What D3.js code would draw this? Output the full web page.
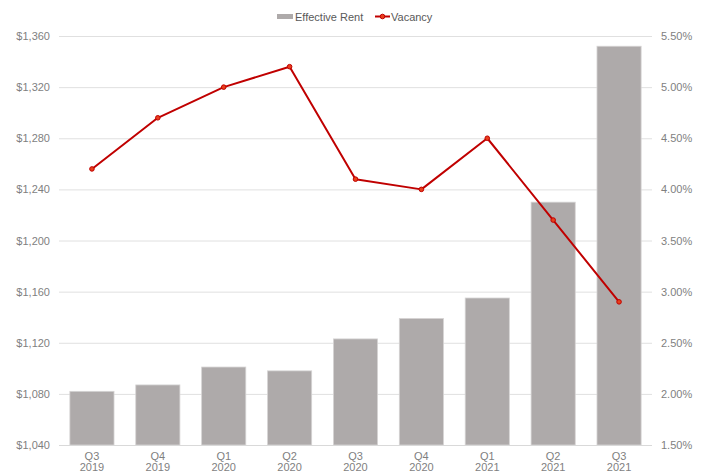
<!DOCTYPE html>
<html><head><meta charset="utf-8">
<script src="https://cdn.jsdelivr.net/npm/d3@7/dist/d3.min.js"></script>
<style>body{margin:0;background:#fff}svg{display:block}text{font-family:"Liberation Sans",Arial,Helvetica,sans-serif}</style>
</head><body><svg id="c" width="704" height="472"></svg>
<script>
const quarters = ["Q3","Q4","Q1","Q2","Q3","Q4","Q1","Q2","Q3"];
const years = ["2019","2019","2020","2020","2020","2020","2021","2021","2021"];
const effectiveRent = [1082,1087,1101,1098,1123,1139,1155,1230,1352];
const vacancy = [4.20,4.70,5.00,5.20,4.10,4.00,4.50,3.70,2.90];
const rentTicks = [1040,1080,1120,1160,1200,1240,1280,1320,1360];
const vacTicks = [1.5,2.0,2.5,3.0,3.5,4.0,4.5,5.0,5.5];

const svg = d3.select("#c");
const L = 59, R = 652, T = 36, B = 445;
const idx = d3.range(quarters.length);
const x = d3.scaleBand().domain(idx).range([L, R]).paddingInner(0.33).paddingOuter(0.165);
const yL = d3.scaleLinear().domain([1040,1360]).range([B, T]);
const yR = d3.scaleLinear().domain([1.5,5.5]).range([B, T]);
const labelColor = "#7f7f7f";

// gridlines
svg.append("g").selectAll("line").data(rentTicks.slice(1)).join("line")
  .attr("x1", L).attr("x2", R).attr("y1", d => yL(d)+0.5).attr("y2", d => yL(d)+0.5)
  .attr("stroke", "#e0e0e0").attr("stroke-width", 1);

// left axis
const axL = svg.append("g").attr("transform", `translate(${L},0)`)
  .call(d3.axisLeft(yL).tickValues(rentTicks).tickSize(0).tickPadding(9).tickFormat(d => "$" + d3.format(",")(d)));
axL.select(".domain").remove();
axL.selectAll("text").attr("fill", labelColor).attr("font-size", 11);

// right axis
const axR = svg.append("g").attr("transform", `translate(${R},0)`)
  .call(d3.axisRight(yR).tickValues(vacTicks).tickSize(0).tickPadding(9).tickFormat(d => d3.format(".2f")(d) + "%"));
axR.select(".domain").remove();
axR.selectAll("text").attr("fill", labelColor).attr("font-size", 11);

// bars
svg.append("g").selectAll("rect").data(effectiveRent).join("rect")
  .attr("x", (d,i) => x(i)).attr("width", x.bandwidth())
  .attr("y", d => yL(d)).attr("height", d => B - yL(d))
  .attr("fill", "#aeaaaa").attr("stroke", "#d6d4d4").attr("stroke-width", 0.8);

// baseline
svg.append("line").attr("x1", L).attr("x2", R).attr("y1", B+0.5).attr("y2", B+0.5)
  .attr("stroke", "#d9d9d9").attr("stroke-width", 1);

// x labels
const xl = svg.append("g").selectAll("text").data(idx).join("text")
  .attr("text-anchor", "middle").attr("fill", labelColor).attr("font-size", 11)
  .attr("x", i => x(i) + x.bandwidth()/2);
xl.append("tspan").attr("x", i => x(i) + x.bandwidth()/2).attr("y", 460).text(i => quarters[i]);
xl.append("tspan").attr("x", i => x(i) + x.bandwidth()/2).attr("y", 471).text(i => years[i]);

// line
const line = d3.line().x((d,i) => x(i) + x.bandwidth()/2).y(d => yR(d));
svg.append("path").datum(vacancy).attr("d", line).attr("fill", "none")
  .attr("stroke", "#c00000").attr("stroke-width", 2).attr("stroke-linejoin", "round");
svg.append("g").selectAll("circle").data(vacancy).join("circle")
  .attr("cx", (d,i) => x(i) + x.bandwidth()/2).attr("cy", d => yR(d)).attr("r", 2.3)
  .attr("fill", "#e8401c").attr("stroke", "#c00000").attr("stroke-width", 1);

// legend
const lg = svg.append("g");
lg.append("rect").attr("x", 277).attr("y", 14).attr("width", 16).attr("height", 5).attr("fill", "#aeaaaa");
lg.append("text").attr("x", 295).attr("y", 20.5).attr("font-size", 11).attr("fill", "#595959").text("Effective Rent");
lg.append("line").attr("x1", 375).attr("x2", 390).attr("y1", 16.5).attr("y2", 16.5).attr("stroke", "#c00000").attr("stroke-width", 2);
lg.append("circle").attr("cx", 382.5).attr("cy", 16.5).attr("r", 2.3).attr("fill", "#e8401c").attr("stroke", "#c00000");
lg.append("text").attr("x", 391).attr("y", 20.5).attr("font-size", 11).attr("fill", "#595959").text("Vacancy");
</script></body></html>
